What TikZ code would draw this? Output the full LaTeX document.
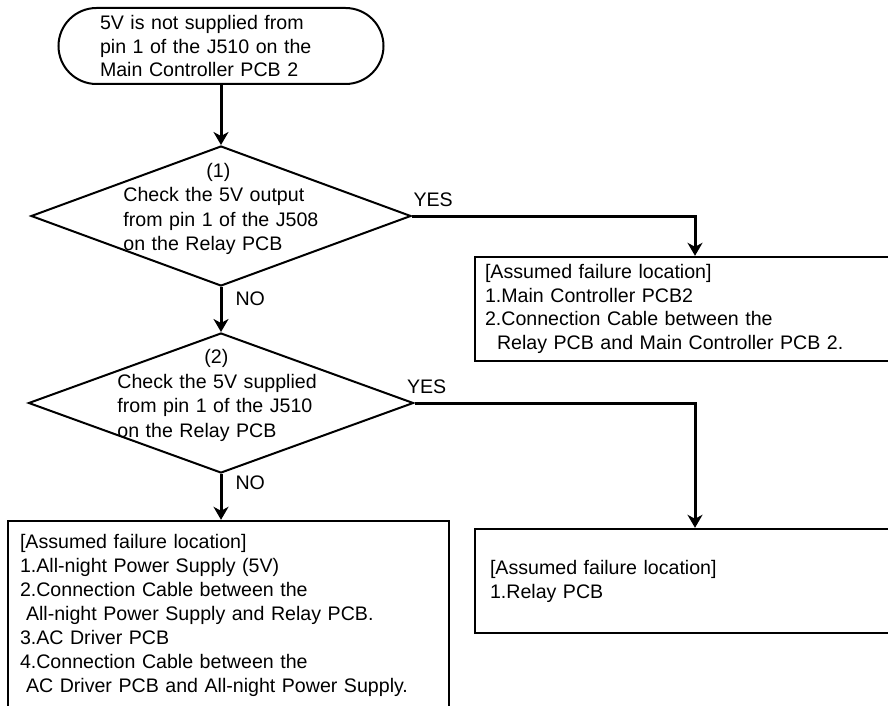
\documentclass[tikz,border=0pt]{standalone}
\usepackage{fontspec}
\setmainfont{Liberation Sans}
\usetikzlibrary{shapes.geometric,arrows.meta}

\begin{document}
\begin{tikzpicture}[
x=0.5pt, y=-0.5pt,
every node/.style={font=\fontsize{9.8}{11.75}\selectfont, inner sep=0pt},
terminal/.style={draw, line width=1pt, rectangle, rounded corners=19pt, minimum width=162.5pt, minimum height=38pt, text width=121pt, align=left},
decision/.style={draw, line width=1pt, diamond, minimum width=190pt, minimum height=70pt},
question/.style={align=left, text width=125pt, font=\fontsize{9.8}{12.3}\selectfont, anchor=west},
failbox/.style={draw, line width=1.2pt, rectangle, align=left},
answer/.style={inner sep=0pt},
arrow/.style={-{Stealth[length=6.5pt,width=7.5pt,inset=2pt]}, line width=1.5pt}
]
\useasboundingbox (0,0) rectangle (888,706);

\node (start) [terminal] at (221,46) {5V is not supplied from\\pin 1 of the J510 on the\\Main Controller PCB 2};

\node (q1) [decision] at (221,216) {};
\node (q1txt) [question] at (123,209) {\makebox[95pt]{(1)}\\Check the 5V output\\from pin 1 of the J508\\on the Relay PCB};

\node (q2) [decision, minimum width=192.5pt] at (221,403) {};
\node (q2txt) [question] at (117,395.5) {\makebox[99pt]{(2)}\\Check the 5V supplied\\from pin 1 of the J510\\on the Relay PCB};

\node (f1) [failbox, inner xsep=5pt, text width=197pt, minimum height=52pt] at (682,309) {[Assumed failure location]\\1.Main Controller PCB2\\2.Connection Cable between the\\\hspace*{6pt}Relay PCB and Main Controller PCB 2.};

\node (f2) [failbox, inner xsep=6pt, text width=208.5pt, minimum height=94pt, font=\fontsize{9.8}{12}\selectfont] at (228.5,615) {[Assumed failure location]\\1.All-night Power Supply (5V)\\2.Connection Cable between the\\\hspace*{3pt}All-night Power Supply and Relay PCB.\\3.AC Driver PCB\\4.Connection Cable between the\\\hspace*{3pt}AC Driver PCB and All-night Power Supply.};

\node (f3) [failbox, inner xsep=7.5pt, text width=192pt, minimum height=52pt, font=\fontsize{9.8}{12}\selectfont] at (682,581) {[Assumed failure location]\\1.Relay PCB};

\coordinate (j1) at (695,216);
\coordinate (j2) at (695,403);

\draw[arrow] (start) -- (q1);
\draw[arrow] (q1.east) node (yes1) [answer, anchor=south west, yshift=4pt] {YES} -- (j1) -- (j1 |- f1.north);
\draw[arrow] (q1.south) node (no1) [answer, anchor=north west, xshift=6.5pt, yshift=-1.5pt] {NO} -- (q2);
\draw[arrow] (q2.east) node (yes2) [answer, anchor=south west, xshift=-4.5pt, yshift=4pt] {YES} -- (j2) -- (j2 |- f3.north);
\draw[arrow] (q2.south) node (no2) [answer, anchor=north west, xshift=6.5pt, yshift=0pt] {NO} -- (q2.south |- f2.north);

\end{tikzpicture}
\end{document}
